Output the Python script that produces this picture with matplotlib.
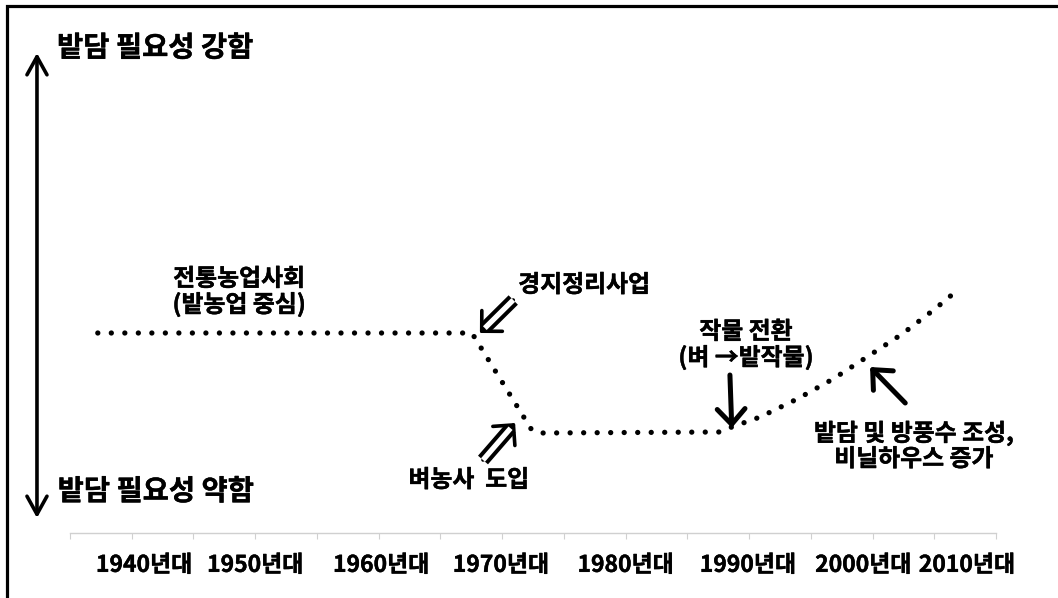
import matplotlib
matplotlib.use("Agg")
import matplotlib.pyplot as plt
import matplotlib.patheffects as pe
from matplotlib.patches import Rectangle

plt.rcParams["font.family"] = ["Noto Sans CJK KR", "DejaVu Sans"]
plt.rcParams["font.weight"] = "bold"

# x in tick-slot units (15 slots on the axis), y is relative need for stone walls
decade_labels = ["1940년대", "1950년대", "1960년대", "1970년대",
                 "1980년대", "1990년대", "2000년대", "2010년대"]
decade_pos = [1.2, 3.0, 5.04, 6.98, 9.0, 10.98, 12.85, 14.53]

trend_x = [0.45, 6.51, 7.48, 7.63, 10.53, 10.72, 11.18, 11.78,
           12.36, 12.91, 13.48, 14.01, 14.34]
trend_y = [4.0, 4.0, 2.06, 2.0, 2.02, 2.12, 2.32, 2.68,
           3.08, 3.52, 3.98, 4.48, 4.82]

# annotation arrows: (tail, tip)
land_arrow = ((7.18, 4.66), (6.64, 4.0))
rice_arrow = ((6.69, 1.46), (7.21, 2.2))
crop_arrow = ((10.69, 3.16), (10.72, 2.1))
wall_arrow = ((13.53, 2.6), (12.96, 3.32))

W, H = 1058, 598
fig = plt.figure(figsize=(W / 100, H / 100), dpi=100)
ax = fig.add_axes([70 / W, (H - 533) / H, (996 - 70) / W, (533 - 33) / H])
ax.set_xlim(0, 15)
ax.set_ylim(0, 10)
for side in ("top", "right", "left"):
    ax.spines[side].set_visible(False)
ax.spines["bottom"].set_color("#d0d0d0")
ax.spines["bottom"].set_linewidth(1.0)
ax.set_yticks([])
ax.xaxis.remove_overlapping_locs = False
ax.set_xticks(range(16))
ax.tick_params(axis="x", which="major", length=4.5, color="#d0d0d0", labelbottom=False)
ax.set_xticks(decade_pos, decade_labels, minor=True)
ax.tick_params(axis="x", which="minor", length=0, pad=15, labelsize=16.5)

thick = [pe.withStroke(linewidth=0.3, foreground="black")]
for lab in ax.get_xticklabels(minor=True):
    lab.set_fontweight("bold")
    lab.set_path_effects(thick)

ax.plot(trend_x, trend_y, color="black", lw=3.8, linestyle=(0, (0.01, 2.55)),
        dash_capstyle="round", clip_on=False)

# vertical double-headed arrow on the left
ax.annotate("", xy=(-0.535, 9.6), xytext=(-0.535, 0.3), annotation_clip=False,
            arrowprops=dict(arrowstyle="<->,head_length=1.3,head_width=0.72",
                            mutation_scale=10, lw=2.6, color="black",
                            shrinkA=0, shrinkB=0))


def double_arrow(tail, tip):
    head = dict(arrowstyle="->,head_length=1.05,head_width=1.05", mutation_scale=10,
                lw=2.6, color="black", shrinkA=0, shrinkB=0)
    ax.annotate("", xy=tip, xytext=tail, arrowprops=head, annotation_clip=False)
    ax.annotate("", xy=tip, xytext=tail, annotation_clip=False,
                arrowprops=dict(arrowstyle="-", lw=9.5, color="black",
                                shrinkA=0, shrinkB=5, capstyle="butt"))
    ax.annotate("", xy=tip, xytext=tail, annotation_clip=False,
                arrowprops=dict(arrowstyle="-", lw=3.8, color="white",
                                shrinkA=0, shrinkB=5, capstyle="butt"))


def solid_arrow(tail, tip):
    ax.annotate("", xy=tip, xytext=tail, annotation_clip=False,
                arrowprops=dict(arrowstyle="->,head_length=1.1,head_width=1.0",
                                mutation_scale=10, lw=3.6, color="black",
                                shrinkA=0, shrinkB=0))


double_arrow(*land_arrow)
double_arrow(*rice_arrow)
solid_arrow(*crop_arrow)
solid_arrow(*wall_arrow)

big = dict(fontsize=20.5, fontweight="bold", va="center", path_effects=thick)
ax.text(-0.21, 9.69, "밭담 필요성 강함", ha="left", **big)
ax.text(-0.20, 0.82, "밭담 필요성 약함", ha="left", **big)

note = dict(fontsize=17.2, fontweight="bold", va="center", linespacing=1.05,
            path_effects=thick)
ax.text(2.74, 4.82, "전통농업사회\n(밭농업 중심)", ha="center", multialignment="center", **note)
ax.text(7.26, 4.96, "경지정리사업", ha="left", **note)
ax.text(6.46, 1.06, "벼농사  도입", ha="center", **note)
ax.text(10.95, 3.76, "작물 전환\n(벼 →밭작물)", ha="center", multialignment="center", **note)
ax.text(13.67, 1.74, "밭담 및 방풍수 조성,\n비닐하우스 증가", ha="center",
        multialignment="center", **note)

# outer frame (only top and left edges fall inside the picture)
fig.add_artist(Rectangle((6.5 / W, -0.1), 1.2, 1.1 - 6.5 / H, transform=fig.transFigure,
                         fill=False, lw=2.3, edgecolor="black"))

fig.savefig("out.png", dpi=100)
